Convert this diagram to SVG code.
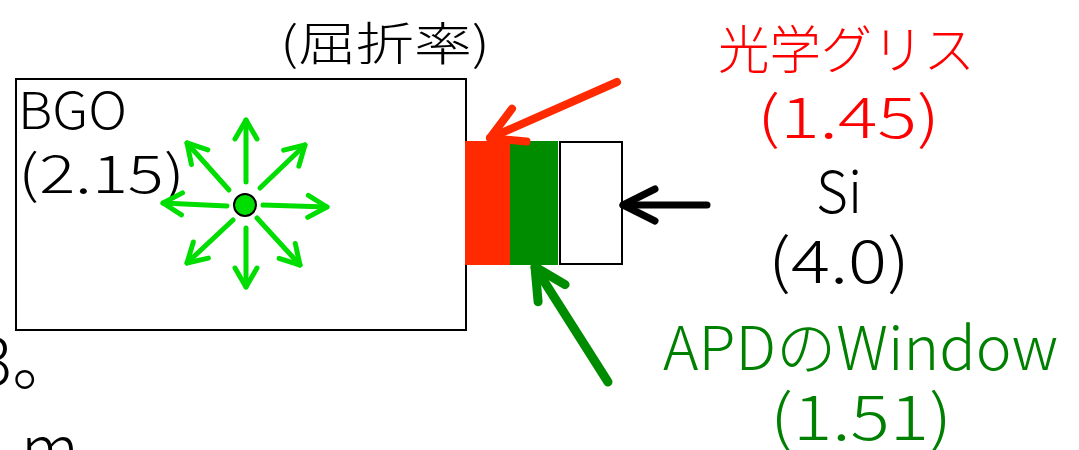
<svg xmlns="http://www.w3.org/2000/svg" width="1079" height="450" viewBox="0 0 1079 450">
  <style>
    text { font-family: "Noto Sans CJK JP", "Noto Sans", sans-serif; font-weight: 300; }
    .blk { fill: #000000; }
    .red { fill: #ff0000; }
    .grn { fill: #008000; }
    .ray { stroke: #00dd00; stroke-width: 5; stroke-linecap: round; fill: none; }
    .conn { fill: none; stroke-linecap: round; stroke-linejoin: round; }
  </style>
  <defs>
    <marker id="headRay" markerUnits="userSpaceOnUse" orient="auto" refX="0" refY="0" markerWidth="40" markerHeight="40" overflow="visible">
      <path d="M-19,-11 L0,0 L-19,11" fill="none" stroke="#00dd00" stroke-width="5" stroke-linecap="round" stroke-linejoin="round"/>
    </marker>
    <marker id="headRed" markerUnits="userSpaceOnUse" orient="auto" refX="0" refY="0" markerWidth="60" markerHeight="60" overflow="visible">
      <path d="M-32,-18 L0,0 L-32,18" fill="none" stroke="#ff2a00" stroke-width="8" stroke-linecap="round" stroke-linejoin="round"/>
    </marker>
    <marker id="headBlk" markerUnits="userSpaceOnUse" orient="auto" refX="0" refY="0" markerWidth="60" markerHeight="60" overflow="visible">
      <path d="M-32,-16 L0,0 L-32,16" fill="none" stroke="#000000" stroke-width="7" stroke-linecap="round" stroke-linejoin="round"/>
    </marker>
    <marker id="headGrn" markerUnits="userSpaceOnUse" orient="auto" refX="0" refY="0" markerWidth="60" markerHeight="60" overflow="visible">
      <path d="M-31,-16 L0,0 L-31,16" fill="none" stroke="#008c00" stroke-width="9" stroke-linecap="round" stroke-linejoin="round"/>
    </marker>
  </defs>

  <rect width="1079" height="450" fill="#ffffff"/>

  <!-- heading -->
  <text class="blk" x="280" y="60" font-size="46" textLength="210" lengthAdjust="spacingAndGlyphs">(屈折率)</text>

  <!-- fragments of surrounding text at the left edge -->
  <text class="blk" x="-22" y="385" font-size="64">3。</text>
  <text class="blk" x="21" y="472" font-size="64">m</text>

  <!-- BGO crystal -->
  <g id="bgo">
    <rect x="16" y="79" width="450" height="251" fill="#ffffff" stroke="#000000" stroke-width="2"/>
    <text class="blk" x="18" y="129" font-size="51" textLength="109" lengthAdjust="spacingAndGlyphs">BGO</text>
    <text class="blk" x="18" y="193" font-size="52" textLength="167" lengthAdjust="spacingAndGlyphs">(2.15)</text>
  </g>

  <!-- scintillation point with emitted light -->
  <g id="source">
    <line class="ray" x1="246" y1="182" x2="246" y2="120" marker-end="url(#headRay)"/>
    <line class="ray" x1="260" y1="188" x2="305" y2="145" marker-end="url(#headRay)"/>
    <line class="ray" x1="263" y1="205" x2="327" y2="207" marker-end="url(#headRay)"/>
    <line class="ray" x1="257" y1="218" x2="300" y2="265" marker-end="url(#headRay)"/>
    <line class="ray" x1="246" y1="228" x2="246" y2="287" marker-end="url(#headRay)"/>
    <line class="ray" x1="233" y1="220" x2="187" y2="263" marker-end="url(#headRay)"/>
    <line class="ray" x1="227" y1="206" x2="163" y2="203" marker-end="url(#headRay)"/>
    <line class="ray" x1="229" y1="190" x2="187" y2="143" marker-end="url(#headRay)"/>
    <circle cx="245" cy="205" r="11" fill="#00dd00" stroke="#000000" stroke-width="2"/>
  </g>

  <!-- optical grease layer -->
  <g id="grease">
    <rect x="465" y="141" width="45" height="124" fill="#ff2a00"/>
  </g>

  <!-- APD window layer -->
  <g id="window">
    <rect x="510" y="141" width="48" height="124" fill="#008c00"/>
  </g>

  <!-- silicon -->
  <g id="si">
    <rect x="560" y="142" width="62" height="122" fill="#ffffff" stroke="#000000" stroke-width="2"/>
  </g>

  <!-- labels -->
  <g id="label-grease">
    <text class="red" x="718" y="69" font-size="52" textLength="257" lengthAdjust="spacingAndGlyphs">光学グリス</text>
    <text class="red" x="757" y="138" font-size="57" textLength="183" lengthAdjust="spacingAndGlyphs">(1.45)</text>
  </g>
  <g id="label-si">
    <text class="blk" x="816" y="213" font-size="58" textLength="46" lengthAdjust="spacingAndGlyphs">Si</text>
    <text class="blk" x="768" y="283" font-size="60" textLength="142" lengthAdjust="spacingAndGlyphs">(4.0)</text>
  </g>
  <g id="label-window">
    <text class="grn" x="663" y="370" font-size="60" textLength="395" lengthAdjust="spacingAndGlyphs">APDのWindow</text>
    <text class="grn" x="770" y="440" font-size="62" textLength="182" lengthAdjust="spacingAndGlyphs">(1.51)</text>
  </g>

  <!-- pointers from labels to layers -->
  <g id="connectors">
    <line class="conn" x1="617" y1="82" x2="490" y2="138" stroke="#ff2a00" stroke-width="8" marker-end="url(#headRed)"/>
    <line class="conn" x1="707" y1="205" x2="623" y2="205" stroke="#000000" stroke-width="7" marker-end="url(#headBlk)"/>
    <line class="conn" x1="608" y1="382" x2="535" y2="267" stroke="#008c00" stroke-width="9" marker-end="url(#headGrn)"/>
  </g>
</svg>
